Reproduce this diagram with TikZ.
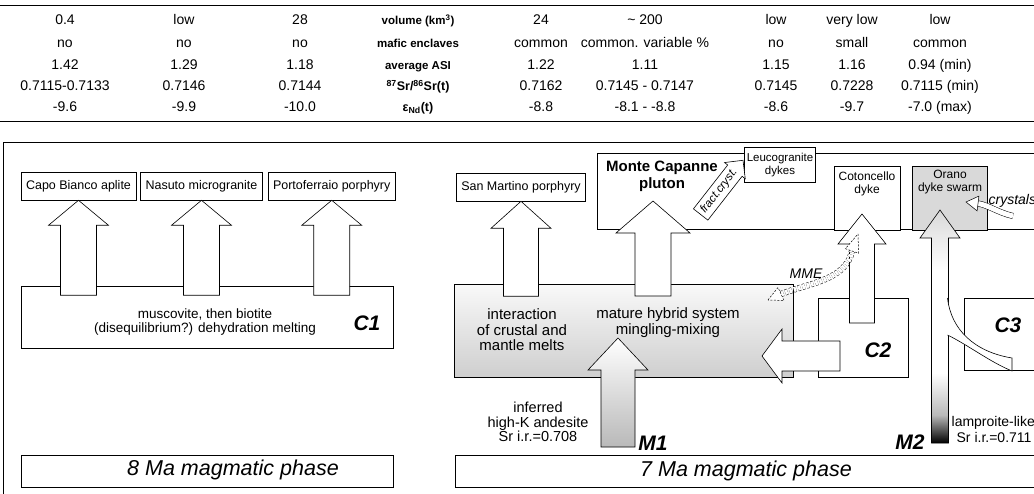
\documentclass[tikz,border=0pt]{standalone}
\usepackage{fontspec}
\setmainfont{Liberation Sans}
\usetikzlibrary{positioning,shapes.arrows}

\pgfdeclareverticalshading{mtwoshade}{100bp}{color(0bp)=(black); color(25bp)=(black); color(31bp)=(gray!55); color(40bp)=(white); color(62bp)=(white); color(75bp)=(gray!30); color(100bp)=(gray!30)}

% hollow block arrows: tip, length, half shaft, half head, head length
\newcommand{\blockup}[6][]{%
  \path[blockarr,#1] (#2) -- ++(#5,#6) -- ++({#4-#5},0) -- ++(0,{#3-#6})
    -- ++({-2*#4},0) -- ++(0,{#6-#3}) -- ++({#4-#5},0) -- cycle;}
\newcommand{\blockleft}[6][]{%
  \path[blockarr,#1] (#2) -- ++(#6,-#5) -- ++(0,{#5-#4}) -- ++({#3-#6},0)
    -- ++(0,{2*#4}) -- ++({#6-#3},0) -- ++(0,{#5-#4}) -- cycle;}

\begin{document}
\begin{tikzpicture}[%
    x=1pt, y=-1pt,
    line width=0.6pt,
    node distance=4pt,
    box/.style={draw, fill=white, inner xsep=5pt, inner ysep=0pt,
      minimum height=28pt, font=\fontsize{12.5}{14}\selectfont},
    tbl/.style={font=\fontsize{14}{16}\selectfont, text height=10pt,
      text depth=3pt, inner sep=0pt},
    thead/.style={font=\bfseries\fontsize{11.5}{13}\selectfont,
      text height=10pt, text depth=3pt, inner sep=0pt},
    iso/.style={font=\bfseries\fontsize{12.5}{14}\selectfont,
      text height=10pt, text depth=3pt, inner sep=0pt},
    dyke/.style={font=\fontsize{12}{12.5}\selectfont, align=center},
    body/.style={font=\fontsize{15}{15.5}\selectfont, align=center},
    note/.style={font=\fontsize{14.5}{14.5}\selectfont, align=center},
    zone/.style={font=\bfseries\itshape\fontsize{21}{24}\selectfont},
    phase/.style={font=\itshape\fontsize{21.5}{24}\selectfont},
    blockarr/.style={draw, fill=white},
    mmeline/.style={dash pattern=on 2.5pt off 2pt, double=white,
      double distance=5pt, line width=0.5pt},
  ]
  \useasboundingbox (0,0) rectangle (1034,494);
  \clip (0,0) rectangle (1034,494);

  % table
  \draw[line width=1pt] (0,6) -- (1034,6);
  \draw (0,121) -- (1034,121);
  \foreach \x/\a/\b/\c/\d/\e [count=\i] in {
    65/0.4/no/1.42/0.7115-0.7133/-9.6,
    184/low/no/1.29/0.7146/-9.9,
    300/28/no/1.18/0.7144/-10.0,
    541/24/common/1.22/0.7162/-8.8,
    645/\textasciitilde{} 200/common. variable \%/1.11/0.7145 - 0.7147/-8.1 - -8.8,
    776/low/no/1.15/0.7145/-8.6,
    852/very low/small/1.16/0.7228/-9.7,
    940/low/common/0.94 (min)/0.7115 (min)/-7.0 (max)}{
    \node[tbl] (vol\i) at (\x,21) {\a};
    \node[tbl] (maf\i) at (\x,44) {\b};
    \node[tbl] (asi\i) at (\x,66) {\c};
    \node[tbl] (sr\i) at (\x,87) {\d};
    \node[tbl] (nd\i) at (\x,108) {\e};
  }
  \node[thead] (hvol) at (418,21) {volume (km\textsuperscript{3})};
  \node[thead] (hmaf) at (418,44) {mafic enclaves};
  \node[thead] (hasi) at (418,66) {average ASI};
  \node[iso] (hsr) at (418,87) {\textsuperscript{87}Sr/\textsuperscript{86}Sr(t)};
  \node[iso] (hnd) at (418,108) {ε\textsubscript{Nd}(t)};

  \draw (1034,142) -- (3,142) -- (3,494);

  % 8 Ma
  \node[box] (capo) at (78.5,186) {Capo Bianco aplite};
  \node[box, right=4pt of capo] (nasuto) {Nasuto microgranite};
  \node[box, right=5pt of nasuto] (porto) {Portoferraio porphyry};
  \node[draw, minimum width=372pt, minimum height=62pt, anchor=north west] (c1) at (21,286) {};
  \node[font=\fontsize{13.5}{14.5}\selectfont, align=center] (c1txt) at (205,322)
    {muscovite, then biotite\\(disequilibrium?) dehydration melting};
  \node[zone] (c1lab) at (367,323) {C1};
  \blockup{capo.south}{95}{18}{30}{25}
  \blockup{nasuto.south}{95}{18}{30}{25}
  \blockup{porto.south}{95}{18}{30}{25}
  \node[draw, minimum width=372pt, minimum height=32pt, anchor=north west] (ma8) at (21,455) {};
  \node[phase] (ma8txt) at (233,470) {8 Ma magmatic phase};

  % 7 Ma
  \node[box] (smart) at (521,187) {San Martino porphyry};
  \node[draw, minimum width=450pt, minimum height=76pt, anchor=north west] (pluton) at (597,153) {};
  \node[font=\bfseries\fontsize{15}{17}\selectfont, align=center] (plutontxt) at (662,176)
    {Monte Capanne\\pluton};
  \node[box, font=\fontsize{11.5}{13}\selectfont, align=center, inner xsep=2pt,
    minimum width=70pt, minimum height=35pt] (leuco) at (780,165) {Leucogranite\\dykes};
  \node[single arrow, draw, fill=white, rotate=52, inner xsep=3pt, inner ysep=3.5pt,
    single arrow head extend=4pt, font=\itshape\fontsize{11.5}{12}\selectfont]
    (fract) at (719,191) {fract.cryst.};
  \node[draw, fill=white, minimum width=66pt, minimum height=64pt, anchor=north] (coto) at (867,166) {};
  \node[dyke] (cototxt) at (867,184) {Cotoncello\\dyke};
  \node[draw, fill=gray!30, minimum width=75pt, minimum height=64pt, anchor=north] (orano) at (950,166) {};
  \node[dyke] (oranotxt) at (950,182) {Orano\\dyke swarm};
  \node[font=\itshape\fontsize{14}{16}\selectfont, anchor=west] (cryst) at (985,201) {crystals};

  \node[draw, top color=gray!5, bottom color=gray!38, minimum width=339pt,
    minimum height=93pt, anchor=north west] (inter) at (454,284) {};
  \node[body] (intertxt) at (522,330) {interaction\\of crustal and\\mantle melts};
  \node[body] (mature) at (668,322.5) {mature hybrid system\\mingling-mixing};
  \node[draw, minimum width=90pt, minimum height=79pt, anchor=north west] (c2) at (818,298) {};
  \node[zone] (c2lab) at (878,350) {C2};
  \node[draw, minimum width=90pt, minimum height=72pt, anchor=north west] (c3) at (964,298) {};
  \node[zone] (c3lab) at (1008,325) {C3};

  \blockup{smart.south}{95}{17.5}{30}{27}
  \coordinate (mctip) at (653,201);
  \blockup{mctip}{95}{18}{37}{32}
  \coordinate (cotip) at (862,214);
  \blockup{cotip}{109}{12.5}{24}{30}
  \coordinate (mone) at (618,338);
  \blockup[top color=white, bottom color=gray!55]{mone}{109}{17}{30}{32}
  \coordinate (mtwo) at (940,210);
  \blockup[shading=mtwoshade]{mtwo}{233}{8.5}{20}{28}
  \fill[white] (946,298) -- (947.5,298) .. controls (951,330) and (975,352) .. (1012,358)
    -- (1012,371) .. controls (990,362) and (968,345) .. (947.5,335) -- (946,335) -- cycle;
  \draw (947.5,298) .. controls (951,330) and (975,352) .. (1012,358)
    -- (1012,371) .. controls (990,362) and (968,345) .. (947.5,335);
  \coordinate (ctwotip) at (762,356);
  \blockleft{ctwotip}{78}{15}{27}{20}

  \coordinate (crtail) at (1013,216);
  \coordinate (crhead) at (978,203.5);
  \draw[double=white, double distance=5pt, line width=0.5pt]
    (crtail) .. controls (999,213) and (988,205) .. (crhead);
  \draw[fill=white, line width=0.5pt] (966,202) -- (978.9,196.1) -- (977.1,210.9) -- cycle;

  \coordinate (mmea) at (781,294);
  \coordinate (mmeb) at (852,251);
  \draw[mmeline] (mmea) .. controls (810,283) and (846,280) .. (mmeb);
  \draw[dash pattern=on 2pt off 1.5pt, fill=white, line width=0.5pt]
    (768,300) -- (778,287.5) -- (784,300.5) -- cycle;
  \draw[dash pattern=on 2pt off 1.5pt, fill=white, line width=0.5pt]
    (858,234) -- (858.6,253.3) -- (845.4,248.7) -- cycle;
  \node[font=\itshape\fontsize{14}{16}\selectfont] (mme) at (806,274) {MME};

  \node[note] (andes) at (538,422) {inferred\\high-K andesite\\Sr i.r.=0.708};
  \node[zone] (m1lab) at (653,443) {M1};
  \node[zone] (m2lab) at (910,442) {M2};
  \node[note, font=\fontsize{14}{14}\selectfont, anchor=west] (lamp) at (948,423) {lamproite-like};
  \node[note, font=\fontsize{14}{14}\selectfont, anchor=west] (lampsr) at (953,437) {Sr i.r.=0.711};

  \node[draw, minimum width=600pt, minimum height=32pt, anchor=north west] (ma7) at (455,455) {};
  \node[phase] (ma7txt) at (746,471) {7 Ma magmatic phase};
\end{tikzpicture}
\end{document}
